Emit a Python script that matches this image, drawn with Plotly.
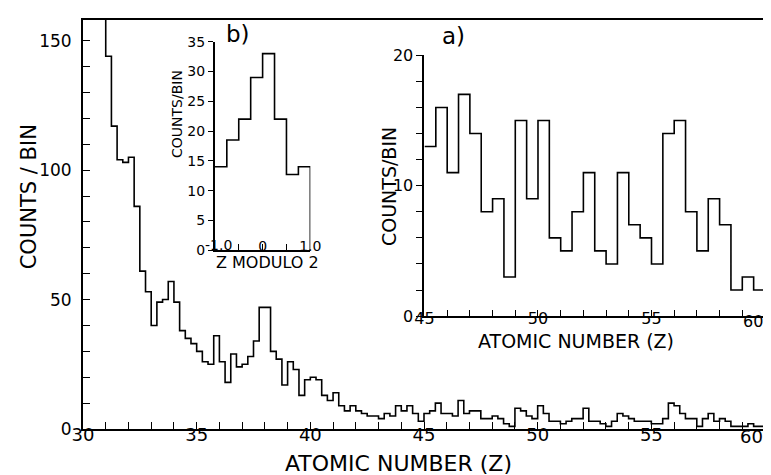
import plotly.graph_objects as go

# ---------------- data ----------------
# main histogram: 0.25-wide bins starting at Z = 30.0
main_bin_start = 30.0
main_bin_width = 0.25
main_counts = [260, 230, 200, 172, 144, 117, 104, 103, 105, 86, 61, 53,
               40, 49, 50, 57, 49, 38, 35, 33, 30, 26, 25, 36,
               26, 18, 29, 24, 25, 28, 34, 47, 47, 30, 27, 17,
               26, 23, 13, 19, 20, 19, 13, 11, 14, 9, 7, 9,
               7, 6, 5, 5, 4, 6, 5, 9, 7, 9, 6, 3,
               6, 7, 10, 6, 6, 5, 11, 6, 7, 7, 4, 4,
               5, 4, 2, 1, 8, 7, 5, 4, 9, 6, 3, 3,
               2, 3, 4, 4, 8, 3, 3, 2, 1, 3, 6, 5,
               4, 3, 3, 3, 2, 2, 4, 10, 9, 6, 4, 4,
               1, 4, 6, 3, 4, 3, 1, 1, 1, 2, 1, 1]

# inset a): 0.5-wide bins starting at Z = 45
a_bin_start = 45.0
a_bin_width = 0.5
a_counts = [13, 16, 11, 17, 14, 8, 9, 3, 15, 9, 15, 6, 5, 8, 11,
            5, 4, 11, 7, 6, 4, 14, 15, 8, 5, 9, 7, 2, 3, 2]

# inset b): Z modulo 2, 0.25-wide bins from -1 to 1
b_bin_start = -1.0
b_bin_width = 0.25
b_counts = [14, 18.5, 22, 29, 33, 22, 12.7, 14]

main_xticks_labeled = [30, 35, 40, 45, 50, 55]
main_yticks_labeled = [0, 50, 100, 150]
a_xticks_labeled = [45, 50, 55]
a_yticks_labeled = [0, 10, 20]
b_xtick_vals = [-1.0, -0.5, 0, 0.5, 1.0]
b_xtick_text = ["", "", "0", "", "1.0"]


def step_xy(start, width, counts, close=False):
    xs = [start + i * width for i in range(len(counts))]
    ys = list(counts)
    xs.append(start + len(counts) * width)
    ys.append(counts[-1])
    if close:
        xs.append(xs[-1])
        ys.append(0)
    return xs, ys


FONT = "DejaVu Sans"
BLACK = "#000000"

fig = go.Figure()

mx, my = step_xy(main_bin_start, main_bin_width, main_counts)
fig.add_trace(go.Scatter(x=mx, y=my, mode="lines", line=dict(shape="hv", color=BLACK, width=1.6),
                         xaxis="x", yaxis="y", showlegend=False, hoverinfo="skip"))

bx, by = step_xy(b_bin_start, b_bin_width, b_counts, close=True)
fig.add_trace(go.Scatter(x=bx, y=by, mode="lines", line=dict(shape="hv", color=BLACK, width=1.6),
                         xaxis="x2", yaxis="y2", showlegend=False, hoverinfo="skip"))

ax, ay = step_xy(a_bin_start, a_bin_width, a_counts)
fig.add_trace(go.Scatter(x=ax, y=ay, mode="lines", line=dict(shape="hv", color=BLACK, width=1.6),
                         xaxis="x3", yaxis="y3", showlegend=False, hoverinfo="skip"))

common = dict(showgrid=False, zeroline=False, showline=True, linecolor=BLACK, linewidth=2,
              tickcolor=BLACK, tickwidth=1.3, color=BLACK)

fig.update_layout(
    width=771, height=475,
    margin=dict(l=75, r=3, t=7, b=54),
    paper_bgcolor="white", plot_bgcolor="white",
    font=dict(family=FONT, color=BLACK),
    xaxis=dict(**common, ticks="inside", domain=[0, 1], range=[30, 60], mirror=True,
               tickmode="array", tickvals=list(range(30, 61)),
               ticktext=[str(v) if v in main_xticks_labeled else "" for v in range(30, 61)],
               ticklen=7, ticklabelstandoff=-12, tickfont=dict(size=18, family=FONT)),
    yaxis=dict(**common, ticks="inside", domain=[0, 1], range=[0, 158], mirror=True,
               tickmode="array", tickvals=list(range(0, 151, 10)),
               ticktext=[str(v) if v in main_yticks_labeled else "" for v in range(0, 151, 10)],
               ticklen=7, ticklabelstandoff=6, tickfont=dict(size=17, family=FONT)),
    xaxis2=dict(**common, ticks="inside",
                domain=[0.1934, 0.3333], range=[-1, 1], anchor="y2",
                tickmode="array", tickvals=b_xtick_vals, ticktext=b_xtick_text,
                ticklen=6, ticklabelstandoff=-18, tickfont=dict(size=14, family=FONT)),
    yaxis2=dict(**common, ticks="outside",
                domain=[0.4372, 0.9469], range=[0, 35], anchor="x2",
                tickmode="array", tickvals=[0, 5, 10, 15, 20, 25, 30, 35],
                ticklen=5, tickfont=dict(size=14, family=FONT)),
    xaxis3=dict(**common, ticks="inside",
                domain=[0.5007, 1.0], range=[45, 60], anchor="y3",
                tickmode="array", tickvals=list(range(45, 61)),
                ticktext=[str(v) if v in a_xticks_labeled else "" for v in range(45, 61)],
                ticklen=6, ticklabelstandoff=-13, tickfont=dict(size=16, family=FONT)),
    yaxis3=dict(**common, ticks="outside",
                domain=[0.276, 0.9138], range=[0, 20], anchor="x3",
                tickmode="array", tickvals=list(range(0, 21, 2)),
                ticktext=[str(v) if v in a_yticks_labeled else "" for v in range(0, 21, 2)],
                ticklen=6, tickfont=dict(size=16, family=FONT)),
)

ann = [
    dict(text="ATOMIC NUMBER (Z)", x=0.463, y=-0.085, size=22, angle=0),
    dict(text="COUNTS / BIN", x=-0.080, y=0.5676, size=21, angle=-90),
    dict(text="COUNTS/BIN", x=0.138, y=0.7705, size=14, angle=-90),
    dict(text="Z MODULO 2", x=0.2698, y=0.408, size=16, angle=0),
    dict(text="b)", x=0.2266, y=0.965, size=23, angle=0),
    dict(text="COUNTS/BIN", x=0.4488, y=0.5918, size=19, angle=-90),
    dict(text="ATOMIC NUMBER (Z)", x=0.7229, y=0.215, size=19, angle=0),
    dict(text="a)", x=0.5426, y=0.962, size=23, angle=0),
]
for a in ann:
    fig.add_annotation(text=a["text"], x=a["x"], y=a["y"], xref="paper", yref="paper",
                       showarrow=False, textangle=a["angle"], xanchor="center", yanchor="middle",
                       font=dict(size=a["size"], family=FONT, color=BLACK))

# tick labels that sit just inside the frame edges
fig.add_annotation(text="60", x=60, y=0, xref="x", yref="paper", xanchor="right", yanchor="middle",
                   yshift=-7, showarrow=False, font=dict(size=18, family=FONT, color=BLACK))
fig.add_annotation(text="60", x=60, y=0, xref="x3", yref="y3", xanchor="right", yanchor="middle",
                   yshift=-5, showarrow=False, font=dict(size=16, family=FONT, color=BLACK))
fig.add_annotation(text="-1.0", x=-1, y=0, xref="x2", yref="y2", xanchor="center", yanchor="middle",
                   xshift=4, yshift=5, showarrow=False, font=dict(size=14, family=FONT, color=BLACK))

fig.write_html("out.html")
